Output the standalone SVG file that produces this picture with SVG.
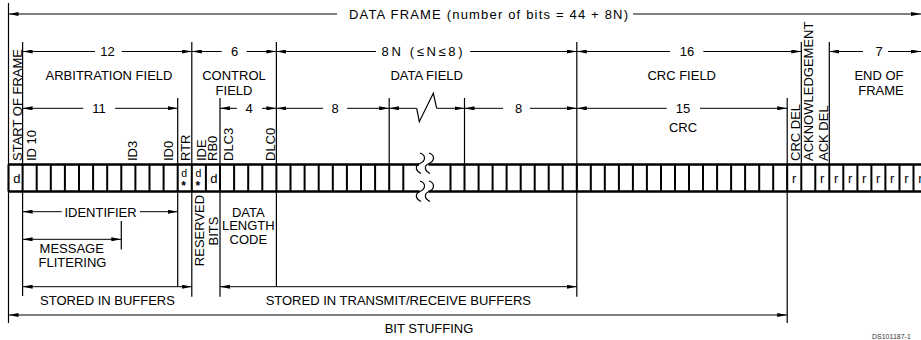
<svg xmlns="http://www.w3.org/2000/svg" width="921" height="340" viewBox="0 0 921 340">
<defs>
<marker id="ah" viewBox="0 0 10 4" refX="10" refY="2" markerWidth="10" markerHeight="4" markerUnits="userSpaceOnUse" orient="auto-start-reverse"><path d="M0,0 L10,2 L0,4 z" fill="#000"/></marker>
<style>
.t{font-family:"Liberation Sans",Arial,sans-serif;font-size:13px;fill:#000}
.m{text-anchor:middle}
.sm{font-size:10.5px}
.st{font-size:12px;font-weight:bold}
.tiny{font-size:7px;fill:#333}
.d{stroke:#000;stroke-width:1;fill:none;marker-end:url(#ah)}
.v{stroke:#000;stroke-width:1.2;fill:none}
.b{stroke:#000;stroke-width:2.5;fill:none}
.c{stroke:#000;stroke-width:2;fill:none}
.s{stroke:#000;stroke-width:1.2;fill:none}
</style>
</defs>
<rect width="921" height="340" fill="#fff"/>

<g id="bit-row">
<path class="b" d="M8.5 164.5H419M428.5 164.5H921M8.5 191.5H419.5M428.5 191.5H921"/>
<path class="c" d="M8.5 164.5V191.5M22.6 164.5V191.5M36.7 164.5V191.5M50.8 164.5V191.5M64.9 164.5V191.5M79 164.5V191.5M93.1 164.5V191.5M107.2 164.5V191.5M121.3 164.5V191.5M135.4 164.5V191.5M149.5 164.5V191.5M163.6 164.5V191.5M177.7 164.5V191.5M191.8 164.5V191.5M205.9 164.5V191.5M220 164.5V191.5M234.1 164.5V191.5M248.2 164.5V191.5M262.3 164.5V191.5M276.4 164.5V191.5M290.5 164.5V191.5M304.6 164.5V191.5M318.7 164.5V191.5M332.8 164.5V191.5M346.9 164.5V191.5M361 164.5V191.5M375.1 164.5V191.5M389.2 164.5V191.5M403.3 164.5V191.5M450.5 164.5V191.5M464.5 164.5V191.5M478.6 164.5V191.5M492.6 164.5V191.5M506.6 164.5V191.5M520.7 164.5V191.5M534.7 164.5V191.5M548.7 164.5V191.5M562.7 164.5V191.5M576.8 164.5V191.5M590.8 164.5V191.5M604.8 164.5V191.5M618.9 164.5V191.5M632.9 164.5V191.5M646.9 164.5V191.5M661 164.5V191.5M675 164.5V191.5M689 164.5V191.5M703 164.5V191.5M717.1 164.5V191.5M731.1 164.5V191.5M745.1 164.5V191.5M759.2 164.5V191.5M773.2 164.5V191.5M787.2 164.5V191.5M801.3 164.5V191.5M815.3 164.5V191.5M829.3 164.5V191.5M843.3 164.5V191.5M857.4 164.5V191.5M871.4 164.5V191.5M885.4 164.5V191.5M899.5 164.5V191.5M913.5 164.5V191.5"/>
<path class="s" d="M420 153c6 2 6 8 0 10.5c-5 2-5 7 1 10M429 153c6 2 6 8 0 10.5c-5 2-5 7 1 10M420 181c6 2 6 8 0 10.5c-5 2-5 7 1 10M429 181c6 2 6 8 0 10.5c-5 2-5 7 1 10"/>
<text class="t" x="13.3" y="183">d</text>
<text class="t sm" x="181.3" y="177">d</text>
<text class="t st" x="181.3" y="190">*</text>
<text class="t sm" x="195.4" y="177">d</text>
<text class="t st" x="195.4" y="190">*</text>
<text class="t" x="210.3" y="183">d</text>
<text class="t" x="792" y="183">r</text>
<text class="t" x="820" y="183">r</text>
<text class="t" x="834" y="183">r</text>
<text class="t" x="848" y="183">r</text>
<text class="t" x="862" y="183">r</text>
<text class="t" x="876" y="183">r</text>
<text class="t" x="890" y="183">r</text>
<text class="t" x="904.2" y="183">r</text>
<text class="t" x="918.2" y="183">r</text>
</g>

<g id="connectors">
<path class="v" d="M8.5 3V323M22.6 42V164M22.6 192V296M121.3 221V249.5M177.7 98V164M177.7 192V286.7M191.8 42V164M191.8 192V296.7M220 98V164M220 192V296.7M276.4 42V164M276.4 192V286.7M389.2 98V164M464.5 98V164M576.8 42V296.7M787.2 98V323M801.3 42V164M829.3 42V164"/>
<line class="d" x1="337" y1="14" x2="8.5" y2="14"/>
<line class="d" x1="633" y1="14" x2="921" y2="14"/>
<line class="d" x1="95" y1="51.5" x2="22.6" y2="51.5"/>
<line class="d" x1="121.7" y1="51.5" x2="191.8" y2="51.5"/>
<line class="d" x1="221.7" y1="51.5" x2="191.8" y2="51.5"/>
<line class="d" x1="246.7" y1="51.5" x2="276.4" y2="51.5"/>
<line class="d" x1="376" y1="51.5" x2="276.4" y2="51.5"/>
<line class="d" x1="470" y1="51.5" x2="576.8" y2="51.5"/>
<line class="d" x1="670" y1="51.5" x2="576.8" y2="51.5"/>
<line class="d" x1="703.3" y1="51.5" x2="801.3" y2="51.5"/>
<line class="d" x1="863" y1="51.5" x2="829.3" y2="51.5"/>
<line class="d" x1="888" y1="51.5" x2="921" y2="51.5"/>
<line class="d" x1="83.3" y1="108.3" x2="22.6" y2="108.3"/>
<line class="d" x1="115" y1="108.3" x2="177.7" y2="108.3"/>
<line class="d" x1="237" y1="108.3" x2="220" y2="108.3"/>
<line class="d" x1="262" y1="108.3" x2="276.4" y2="108.3"/>
<line class="d" x1="323" y1="108.3" x2="276.4" y2="108.3"/>
<line class="d" x1="347" y1="108.3" x2="389.2" y2="108.3"/>
<line class="d" x1="416.7" y1="108.3" x2="389.2" y2="108.3"/>
<polyline class="v" points="416.7,108.3 419.3,121.7 433.3,93.3 436.7,108.3"/>
<line class="d" x1="436.7" y1="108.3" x2="464.5" y2="108.3"/>
<line class="d" x1="503" y1="108.3" x2="464.5" y2="108.3"/>
<line class="d" x1="530" y1="108.3" x2="576.8" y2="108.3"/>
<line class="d" x1="666.7" y1="108.3" x2="576.8" y2="108.3"/>
<line class="d" x1="700" y1="108.3" x2="787.2" y2="108.3"/>
<line class="d" x1="61.7" y1="211.7" x2="22.6" y2="211.7"/>
<line class="d" x1="140" y1="211.7" x2="177.7" y2="211.7"/>
<line class="d" x1="72" y1="239.3" x2="22.6" y2="239.3"/>
<line class="d" x1="72" y1="239.3" x2="121.3" y2="239.3"/>
<line class="d" x1="107" y1="286.7" x2="22.6" y2="286.7"/>
<line class="d" x1="107" y1="286.7" x2="191.8" y2="286.7"/>
<line class="d" x1="398" y1="286.7" x2="220" y2="286.7"/>
<line class="d" x1="398" y1="286.7" x2="576.8" y2="286.7"/>
<line class="d" x1="400" y1="315" x2="8.5" y2="315"/>
<line class="d" x1="400" y1="315" x2="787.2" y2="315"/>
</g>

<g id="frame-label">
<text class="t m" x="488.5" y="19" textLength="279" lengthAdjust="spacing">DATA FRAME (number of bits = 44 + 8N)</text>
</g>

<g id="field-labels">
<text class="t m" x="107.5" y="56.3">12</text>
<text class="t m" x="234.5" y="56.3">6</text>
<text class="t m" x="422" y="56.3" textLength="81" lengthAdjust="spacing">8N (≤N≤8)</text>
<text class="t m" x="687" y="56.3">16</text>
<text class="t m" x="879" y="56.3">7</text>
<text class="t m" x="109" y="80">ARBITRATION FIELD</text>
<text class="t m" x="234" y="80">CONTROL</text>
<text class="t m" x="234" y="94.5">FIELD</text>
<text class="t m" x="426.7" y="80">DATA FIELD</text>
<text class="t m" x="681.7" y="80">CRC FIELD</text>
<text class="t m" x="879" y="80">END OF</text>
<text class="t m" x="881" y="94.5">FRAME</text>
<text class="t m" x="99" y="113">11</text>
<text class="t m" x="249" y="113">4</text>
<text class="t m" x="335" y="113">8</text>
<text class="t m" x="518.5" y="113">8</text>
<text class="t m" x="683" y="113">15</text>
<text class="t m" x="683" y="131.5">CRC</text>
</g>

<g id="bit-labels">
<text class="t" transform="translate(21.8,161) rotate(-90)">START OF FRAME</text>
<text class="t" transform="translate(36.3,161) rotate(-90)">ID 10</text>
<text class="t" transform="translate(136.8,161) rotate(-90)">ID3</text>
<text class="t" transform="translate(173.3,161) rotate(-90)">ID0</text>
<text class="t" transform="translate(190,161) rotate(-90)">RTR</text>
<text class="t" transform="translate(206.3,161) rotate(-90)">IDE</text>
<text class="t" transform="translate(217,161) rotate(-90)">RB0</text>
<text class="t" transform="translate(233.3,161) rotate(-90)">DLC3</text>
<text class="t" transform="translate(275,161) rotate(-90)">DLC0</text>
<text class="t" transform="translate(800,161) rotate(-90)">CRC DEL</text>
<text class="t" transform="translate(813.3,161) rotate(-90)">ACKNOWLEDGEMENT</text>
<text class="t" transform="translate(828.3,161) rotate(-90)">ACK DEL</text>
</g>

<g id="lower-labels">
<text class="t m" x="100.5" y="216.7">IDENTIFIER</text>
<text class="t m" x="71.7" y="253.3">MESSAGE</text>
<text class="t m" x="72.5" y="266.7">FLITERING</text>
<text class="t m" transform="translate(203.5,230.5) rotate(-90)">RESERVED</text>
<text class="t m" transform="translate(218,231) rotate(-90)">BITS</text>
<text class="t m" x="248.3" y="216.5">DATA</text>
<text class="t m" x="248.3" y="230">LENGTH</text>
<text class="t m" x="248.3" y="243.5">CODE</text>
<text class="t m" x="107.5" y="305">STORED IN BUFFERS</text>
<text class="t m" x="398.3" y="305">STORED IN TRANSMIT/RECEIVE BUFFERS</text>
<text class="t m" x="429" y="333.3">BIT STUFFING</text>
<text class="t tiny" x="872" y="338.5">DS101187-1</text>
</g>
</svg>
